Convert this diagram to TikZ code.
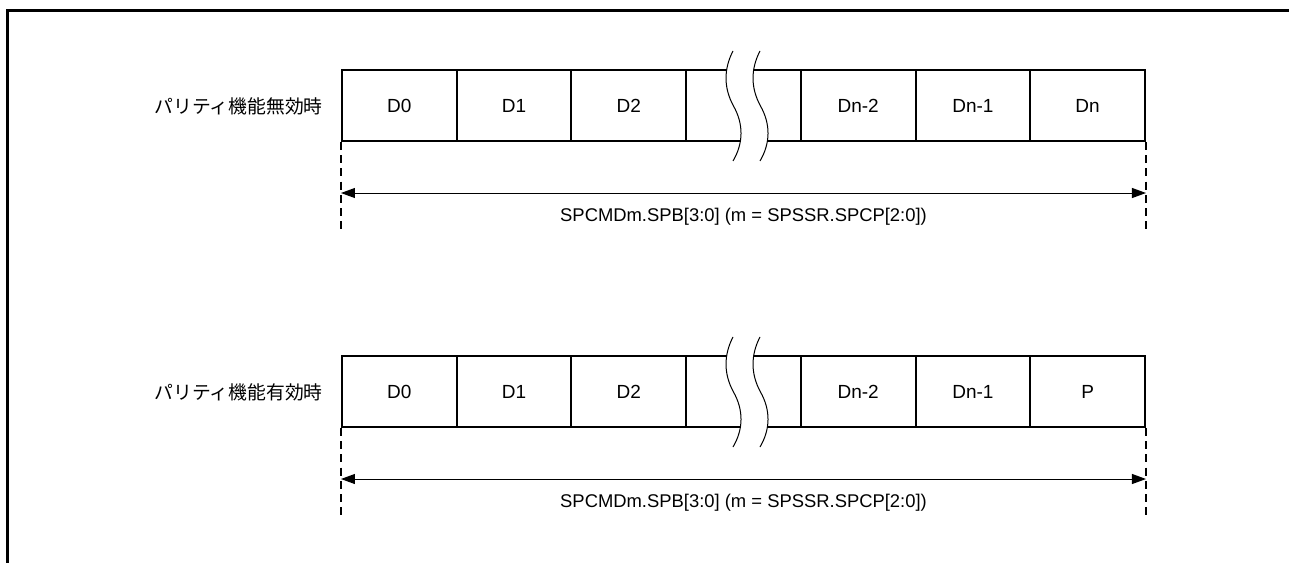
\documentclass[tikz,border=0pt]{standalone}
\usepackage{fontspec}
\setmainfont{Liberation Sans}
\newfontfamily\jpfont{Noto Sans CJK JP}
\usetikzlibrary{arrows.meta,calc,positioning}

\begin{document}
\begin{tikzpicture}[x=0.5pt,y=-0.5pt,line join=miter,
  cell/.style={draw,line width=1pt,minimum width=57.36pt,minimum height=35.5pt,
    inner sep=0pt,font=\fontsize{9.5}{11}\selectfont},
  rowlabel/.style={anchor=east,inner sep=0pt,font=\jpfont\fontsize{9.4}{11}\selectfont},
  spantext/.style={inner sep=0pt,font=\fontsize{9.2}{11}\selectfont},
  guide/.style={line width=1pt,dash pattern=on 4pt off 2.6pt},
  span/.style={{Triangle[length=7pt,width=5pt]}-{Triangle[length=7pt,width=5pt]},line width=0.5pt},
  breakline/.style={line width=0.5pt}]
\useasboundingbox (0,0) rectangle (1289,562);
% Rahmen oben und links
\draw[line width=1.5pt] (7,600) -- (7,10) -- (1300,10);

\foreach \row/\ytop/\jtext/\last in {1/70/パリティ機能無効時/Dn,2/356/パリティ機能有効時/P}{
 \begin{scope}[shift={(0,\ytop)}]
  % Datenrahmen
  \foreach \i/\txt in {1/D0,2/D1,3/D2,4/{},5/Dn-2,6/Dn-1,7/\last}
   \node[cell] (c\row-\i) at (342+114.71*\i-57.36,35.5) {\txt};
  \node[rowlabel] (name\row) at (323,36) {\jtext};
  % Unterbrechung
  \fill[white] (733,-19) .. controls (723.6,-1) and (723.6,18) .. (733.5,36)
   .. controls (743.6,54) and (743.6,73) .. (733,91) -- (760,91)
   .. controls (770.6,73) and (770.6,54) .. (760.5,36)
   .. controls (750.6,18) and (750.6,-1) .. (760,-19) -- cycle;
  \draw[breakline] (733,-19) .. controls (723.6,-1) and (723.6,18) .. (733.5,36)
   .. controls (743.6,54) and (743.6,73) .. (733,91);
  \draw[breakline] (760,-19) .. controls (750.6,-1) and (750.6,18) .. (760.5,36)
   .. controls (770.6,54) and (770.6,73) .. (760,91);
  % Hilfslinien und Laenge
  \draw[guide] (c\row-1.south west) -- ++(0,89) coordinate (gl\row);
  \draw[guide] (c\row-7.south east) -- ++(0,89) coordinate (gr\row);
  \coordinate (al\row) at ($(c\row-1.south west)+(0,51)$);
  \coordinate (ar\row) at ($(c\row-7.south east)+(0,51)$);
  \draw[span] (al\row) -- (ar\row);
  \node[spantext] (len\row) at (743.5,147) {SPCMDm.SPB[3:0] (m = SPSSR.SPCP[2:0])};
 \end{scope}
}
\end{tikzpicture}
\end{document}
